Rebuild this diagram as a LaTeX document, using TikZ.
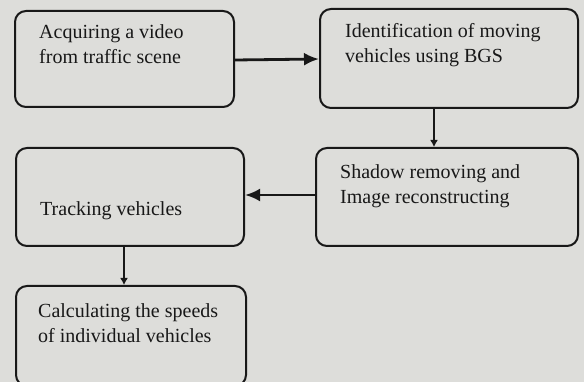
\documentclass[tikz,border=0pt]{standalone}
\usepackage{fontspec}
\setmainfont{Liberation Serif}
\usetikzlibrary{arrows.meta}
\definecolor{paper}{RGB}{221,221,218}
\definecolor{ink}{RGB}{24,24,24}
\tikzset{
  stage/.style={draw=ink, line width=2pt, rounded corners=11pt, fill=paper,
    inner sep=0pt, anchor=north west},
  label/.style={anchor=north west, inner sep=0pt, text=ink, font=\fontsize{20}{25}\selectfont, align=left},
  flow/.style={draw=ink, line width=2.8pt, -{Latex[length=15pt,width=13pt]}},
  drop/.style={draw=ink, line width=2.2pt, -{Latex[length=7pt,width=8pt]}},
}
\begin{document}
\begin{tikzpicture}[x=1pt,y=-1pt]
  \clip (0,0) rectangle (584,382);
  \fill[paper] (0,0) rectangle (584,382);

  % process stages
  \node[stage, minimum width=219pt, minimum height=96pt] (acq) at (14,10) {};
  \node[stage, minimum width=258pt, minimum height=99pt] (ident) at (319,8) {};
  \node[stage, minimum width=262pt, minimum height=98pt] (shadow) at (315,147) {};
  \node[stage, minimum width=228pt, minimum height=98pt] (track) at (15,147) {};
  \node[stage, minimum width=230pt, minimum height=100pt] (speed) at (15,285) {};

  % stage captions (top-left corner of each text block)
  \node[label] (tacq) at (39,24) {Acquiring a video\\from traffic scene};
  \node[label] (tident) at (345,23) {Identification of moving\\vehicles using BGS};
  \node[label] (tshadow) at (340,164) {Shadow removing and\\Image reconstructing};
  \node[label] (ttrack) at (40,201) {Tracking vehicles};
  \node[label] (tspeed) at (38,303) {Calculating the speeds\\of individual vehicles};

  % connectors
  \draw[flow] ([yshift=-1pt]acq.east) -- ([yshift=-0.5pt]ident.west);
  \draw[drop] ([xshift=-15pt]ident.south) -- ([xshift=-13pt]shadow.north);
  \draw[flow] ([yshift=2pt]shadow.west) -- ([yshift=2pt]track.east);
  \draw[drop] ([xshift=-6pt]track.south) -- ([xshift=-7pt]speed.north);
\end{tikzpicture}
\end{document}
